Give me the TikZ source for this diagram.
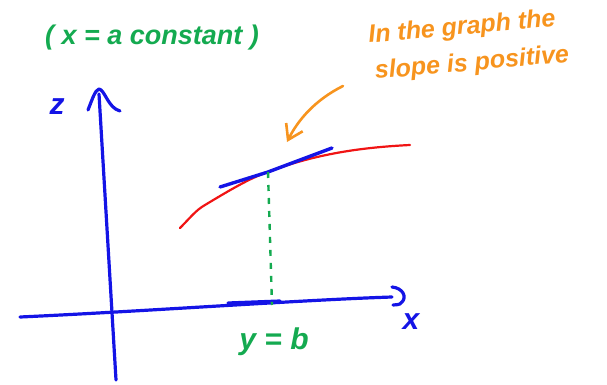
\documentclass[tikz,border=0pt]{standalone}
\usepackage{fontspec}
\setmainfont{Liberation Sans}
\usetikzlibrary{arrows.meta,calc}
\definecolor{azul}{RGB}{20,20,230}
\definecolor{rojo}{RGB}{240,20,20}
\definecolor{verde}{RGB}{20,170,80}
\definecolor{naranja}{RGB}{247,148,30}

\begin{document}
\begin{tikzpicture}[x=1pt, y=-1pt,
    eje/.style={azul, line width=3.2pt, line cap=round, line join=round},
    curva/.style={rojo, line width=2.2pt, line cap=round},
    tangente/.style={azul, line width=3.4pt, line cap=round},
    guia/.style={verde, line width=2.4pt, dash pattern=on 6pt off 7pt},
    nota/.style={naranja, font=\fontsize{25}{30}\selectfont\itshape\bfseries, inner sep=1pt},
    etiqueta/.style={font=\fontsize{30}{34}\selectfont\itshape\bfseries},
    flecha/.style={-{Straight Barb[length=5mm, width=6.5mm, line width=2.6pt]}, naranja, line width=2.6pt, line cap=round}]
  \useasboundingbox (0,0) rectangle (607,385);
  % ejes
  \coordinate (zbajo) at (116,380);
  \coordinate (zalto) at (99,94);
  \coordinate (xizq) at (20,317);
  \coordinate (xder) at (392,297);
  \draw[eje] (zbajo) -- (zalto);
  \draw[eje] (88,110) .. controls (92,100) and (95,90) .. (99,89) .. controls (105,90) and (108,108) .. (120,111);
  \draw[eje] (xizq) .. controls (150,311) and (300,300) .. (xder);
  \draw[eje] (228,303) -- (280,301);
  \draw[eje] (392,287) .. controls (403,288) and (407,297) .. (402,302) .. controls (399,306) and (396,304) .. (393,305);
  \node[azul, etiqueta] (zlab) at (57,107) {z};
  \node[azul, etiqueta] (xlab) at (411,322) {x};
  % curva y tangente
  \coordinate (punto) at (268,172);
  \coordinate (pie) at (272,305);
  \draw[curva] (180,228) .. controls (190,218) and (196,210) .. (205,205)
     .. controls (230,190) and (250,178) .. (punto)
     .. controls (320,152) and (370,147) .. (410,145);
  \draw[tangente] (220,187) -- (punto) -- (332,148);
  \draw[guia] (punto) -- (pie);
  % textos
  \node[verde, etiqueta] (ylab) at (274,342) {y = b};
  \node[verde, etiqueta, font=\fontsize{27}{30}\selectfont\itshape\bfseries] (titulo) at (152,38) {( x = a constant )};
  \node[nota, rotate=5] (nota1) at (462,28) {In the graph the};
  \node[nota, rotate=5] (nota2) at (472,64) {slope is positive};
  \draw[flecha] (343,86) .. controls (315,100) and (298,120) .. (287,142);
\end{tikzpicture}
\end{document}
